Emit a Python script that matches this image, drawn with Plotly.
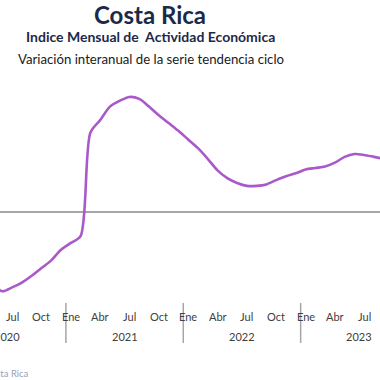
import plotly.graph_objects as go

# Month index: 0 = Ene 2021
years = ["2020", "2021", "2022", "2023"]
month_tick_labels = ["Ene", "Abr", "Jul", "Oct"]

values_2020 = [2.6, 1.9, -0.8, -4.6, -7.2, -8.2, -7.8, -7.3, -6.6, -5.8, -5.0, -3.9]
values_2021 = [-3.2, -2.5, 8.2, 9.5, 10.9, 11.5, 11.9, 11.7, 10.9, 10.0, 9.2, 8.4]
values_2022 = [7.5, 6.6, 5.5, 4.3, 3.5, 3.0, 2.7, 2.7, 2.85, 3.3, 3.7, 4.0]
values_2023 = [4.4, 4.55, 4.7, 5.1, 5.7, 6.0, 5.9, 5.7, 5.5, 5.3]

values = values_2020 + values_2021 + values_2022 + values_2023
x_idx = list(range(-12, -12 + len(values)))

title = "Costa Rica"
subtitle = "Indice Mensual de  Actividad Económica"
subsubtitle = "Variación interanual de la serie tendencia ciclo"
source = "Fuente: Banco Central de Costa Rica"

LINE = "#a959c9"
NAVY = "#1c2a4a"
FONT = "Lato"

W, H = 380, 380
px_per_month = 9.78
x0_px = 70.8  # pixel of Ene 2021
xmin = (0 - x0_px) / px_per_month
xmax = (W - x0_px) / px_per_month

plot_top, plot_bot = 70, 300
zero_px = 212
px_per_unit = 9.67
ymax = (zero_px - plot_top) / px_per_unit
ymin = (zero_px - plot_bot) / px_per_unit


def ypaper(ypx):
    return (plot_bot - ypx) / (plot_bot - plot_top)


fig = go.Figure()
fig.add_trace(go.Scatter(x=x_idx, y=values, mode="lines",
                         line=dict(color=LINE, width=2.6, shape="spline", smoothing=0.8),
                         hoverinfo="skip"))

annotations = []
shapes = []
AX_FONT = dict(family=FONT, size=11, color="#404040")

for yi, yr in enumerate(years):
    base = -12 + 12 * yi
    for k, lab in enumerate(month_tick_labels):
        m = base + 3 * k
        if xmin <= m <= xmax:
            annotations.append(dict(x=m, y=ypaper(316), xref="x", yref="paper", text=lab,
                                    showarrow=False, xanchor="center", yanchor="middle",
                                    font=AX_FONT))
    center = base + 5.5
    anchor = min(max(center, xmin + 0.01), xmax - 0.01)
    annotations.append(dict(x=anchor, y=ypaper(336), xref="x", yref="paper",
                            text=yr, showarrow=False, xanchor="center", yanchor="middle",
                            xshift=(center - anchor) * px_per_month, font=AX_FONT))
    if yi > 0:
        shapes.append(dict(type="line", xref="x", yref="paper", x0=base - 0.5, x1=base - 0.5,
                           y0=ypaper(303), y1=ypaper(343), line=dict(color="#a6a6a6", width=1.5)))

annotations.append(dict(x=150 / W, y=ypaper(14), xref="paper", yref="paper", text="<b>" + title + "</b>",
                        showarrow=False, xanchor="center", yanchor="middle",
                        font=dict(family=FONT, size=24, color=NAVY)))
annotations.append(dict(x=150 / W, y=ypaper(37), xref="paper", yref="paper", text="<b>" + subtitle + "</b>",
                        showarrow=False, xanchor="center", yanchor="middle",
                        font=dict(family=FONT, size=14, color=NAVY)))
annotations.append(dict(x=151 / W, y=ypaper(59), xref="paper", yref="paper", text=subsubtitle,
                        showarrow=False, xanchor="center", yanchor="middle",
                        font=dict(family=FONT, size=13.2, color="#1a1a1a")))
annotations.append(dict(x=31 / W, y=ypaper(373), xref="paper", yref="paper", text=source,
                        showarrow=False, xanchor="right", yanchor="middle",
                        font=dict(family=FONT, size=9.5, color="#9aa0b0")))

fig.update_layout(
    width=W, height=H,
    margin=dict(l=0, r=0, t=plot_top, b=H - plot_bot),
    plot_bgcolor="white", paper_bgcolor="white",
    showlegend=False,
    xaxis=dict(range=[xmin, xmax], showgrid=False, zeroline=False, showticklabels=False,
               showline=False, ticks=""),
    yaxis=dict(range=[ymin, ymax], showgrid=False, zeroline=True, zerolinecolor="#a6a6a6",
               zerolinewidth=1.6, showticklabels=False, showline=False, ticks=""),
    annotations=annotations,
    shapes=shapes,
)

fig.write_html("out.html", config={"displayModeBar": False, "staticPlot": True},
               post_script="document.body.style.margin='0';document.body.style.overflow='hidden';")
